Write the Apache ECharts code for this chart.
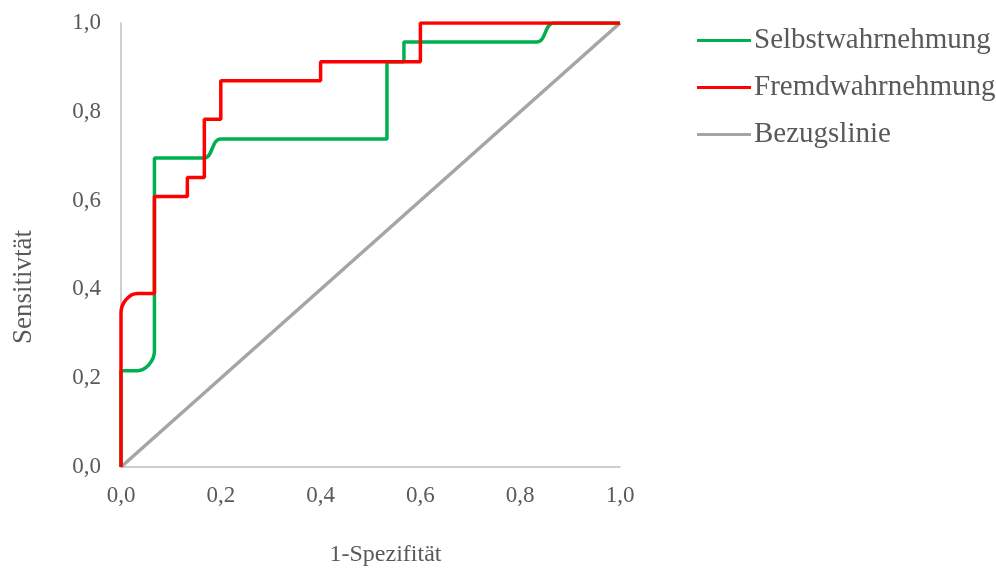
<!DOCTYPE html>
<html>
<head>
<meta charset="utf-8">
<script src="https://cdn.jsdelivr.net/npm/echarts@6/dist/echarts.min.js"></script>
<style>
  html, body { margin: 0; padding: 0; background: #fff; }
  #main { width: 996px; height: 576px; }
</style>
</head>
<body>
<div id="main"></div>
<script>
// ROC-Kurven, Werte
var fprSelbst  = [0, 0, 0.033, 0.067, 0.067, 0.167, 0.2, 0.533, 0.533, 0.567, 0.567, 0.833, 0.867, 1];
var sensSelbst = [0, 0.217, 0.217, 0.261, 0.696, 0.696, 0.739, 0.739, 0.913, 0.913, 0.957, 0.957, 1, 1];

var fprFremd  = [0, 0, 0.033, 0.067, 0.067, 0.133, 0.133, 0.167, 0.167, 0.2, 0.2, 0.4, 0.4, 0.6, 0.6, 1];
var sensFremd = [0, 0.348, 0.391, 0.391, 0.609, 0.609, 0.652, 0.652, 0.783, 0.783, 0.870, 0.870, 0.913, 0.913, 1, 1];

var fprBezug  = [0, 1];
var sensBezug = [0, 1];

var seriesNames = ['Selbstwahrnehmung', 'Fremdwahrnehmung', 'Bezugslinie'];

function pairs(xs, ys) {
    return xs.map(function (x, i) { return [x, ys[i]]; });
}

var fontFam = '"Liberation Serif", "Times New Roman", serif';
var textCol = '#595959';
var fmt = function (v) { return v.toFixed(1).replace('.', ','); };

var myChart = echarts.init(document.getElementById('main'));

var option = {
    animation: false,
    backgroundColor: '#fff',
    textStyle: { fontFamily: fontFam, color: textCol },
    grid: { left: 121, right: 376, top: 23, bottom: 109, outerBoundsMode: 'none', containLabel: false },
    legend: {
        orient: 'vertical',
        left: 692,
        top: 21,
        icon: 'rect',
        itemWidth: 54,
        itemHeight: 3,
        itemGap: 18,
        data: seriesNames,
        textStyle: { fontFamily: fontFam, color: textCol, fontSize: 29, padding: [0, 0, 0, -2] }
    },
    xAxis: {
        type: 'value',
        min: 0,
        max: 1,
        interval: 0.2,
        name: '1-Spezifität',
        nameLocation: 'middle',
        nameGap: 76,
        nameTextStyle: { fontFamily: fontFam, color: textCol, fontSize: 24, padding: [0, 0, 0, 30] },
        axisLine: { lineStyle: { color: '#bfbfbf', width: 1.5 } },
        axisTick: { show: false },
        splitLine: { show: false },
        axisLabel: { formatter: fmt, fontFamily: fontFam, color: textCol, fontSize: 23, margin: 17 }
    },
    yAxis: {
        type: 'value',
        min: 0,
        max: 1,
        interval: 0.2,
        name: 'Sensitivtät',
        nameLocation: 'middle',
        nameGap: 84,
        nameTextStyle: { fontFamily: fontFam, color: textCol, fontSize: 27, padding: [0, 84, 0, 0] },
        axisLine: { show: true, lineStyle: { color: '#bfbfbf', width: 1.5 } },
        axisTick: { show: false },
        splitLine: { show: false },
        axisLabel: { formatter: fmt, fontFamily: fontFam, color: textCol, fontSize: 23, margin: 20 }
    },
    series: [
        {
            name: seriesNames[0],
            type: 'line',
            data: pairs(fprSelbst, sensSelbst),
            smooth: 0.4,
            symbol: 'none',
            lineStyle: { color: '#00b050', width: 3.5 },
            itemStyle: { color: '#00b050' },
            z: 3
        },
        {
            name: seriesNames[1],
            type: 'line',
            data: pairs(fprFremd, sensFremd),
            smooth: 0.4,
            symbol: 'none',
            lineStyle: { color: '#ff0000', width: 3.5 },
            itemStyle: { color: '#ff0000' },
            z: 4
        },
        {
            name: seriesNames[2],
            type: 'line',
            data: pairs(fprBezug, sensBezug),
            symbol: 'none',
            lineStyle: { color: '#a5a5a5', width: 3.5 },
            itemStyle: { color: '#a5a5a5' },
            z: 2
        }
    ]
};

myChart.setOption(option);
</script>
</body>
</html>
